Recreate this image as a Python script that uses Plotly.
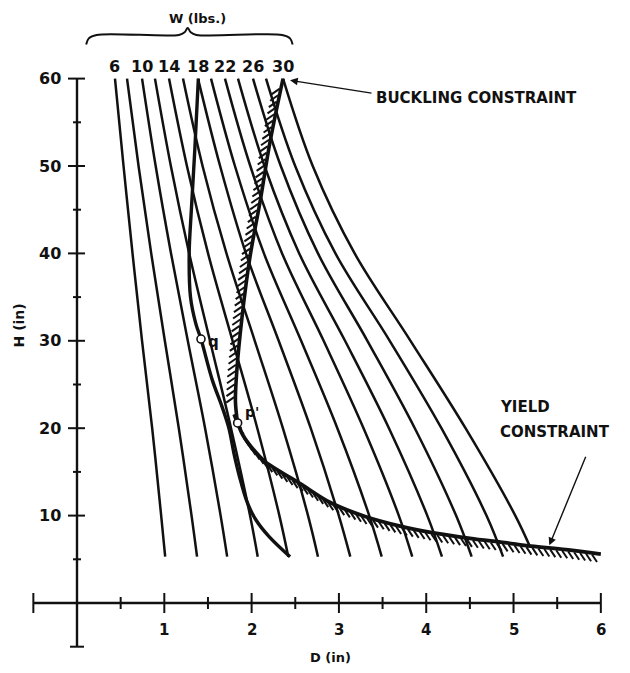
import numpy as np
import plotly.graph_objects as go

# ---- data -------------------------------------------------------------
# constant-weight contours W (lbs): D (in) read at the heights in h_levels
w_values = [6, 8, 10, 12, 14, 16, 18, 20, 22, 24, 26, 28, 30]
w_labelled = [6, 10, 14, 18, 22, 26, 30]
h_levels = [60, 50, 40, 30, 20, 10]
w_end_h = [5.3, 5.3, 5.3, 5.3, 5.3, 5.3, 5.3, 5.3, 5.3, 5.3, 5.3, 5.3, 6.4]
w_curve_d = [
    [0.435, 0.533, 0.636, 0.745, 0.861, 0.964, 1.01],
    [0.573, 0.705, 0.850, 1.006, 1.166, 1.312, 1.375],
    [0.745, 0.901, 1.077, 1.269, 1.467, 1.645, 1.72],
    [0.893, 1.075, 1.285, 1.523, 1.764, 1.982, 2.07],
    [1.054, 1.259, 1.501, 1.782, 2.065, 2.318, 2.42],
    [1.214, 1.438, 1.712, 2.036, 2.358, 2.646, 2.76],
    [1.386, 1.639, 1.935, 2.310, 2.677, 2.999, 3.13],
    [1.535, 1.809, 2.141, 2.567, 2.982, 3.347, 3.49],
    [1.695, 1.985, 2.349, 2.825, 3.282, 3.686, 3.84],
    [1.844, 2.148, 2.545, 3.070, 3.573, 4.012, 4.18],
    [2.016, 2.334, 2.760, 3.326, 3.869, 4.342, 4.52],
    [2.165, 2.499, 2.960, 3.582, 4.174, 4.690, 4.88],
    [2.360, 2.700, 3.180, 3.820, 4.450, 5.020, 5.19],
]

# buckling constraint
buck_d = [2.36, 2.21, 2.10, 1.98, 1.89, 1.83, 1.815, 1.84]
buck_h = [60.0, 52.7, 46.1, 39.5, 32.7, 26.5, 23.0, 20.6]

# yield constraint
yield_d = [1.80, 1.84, 1.90, 2.00, 2.15, 2.35, 2.55, 2.90, 3.30, 3.70, 4.10, 4.50, 4.90, 5.20, 5.60, 6.00]
yield_h = [21.6, 20.6, 19.2, 17.8, 16.2, 14.9, 13.7, 11.5, 9.9, 8.8, 8.0, 7.4, 6.9, 6.5, 6.1, 5.6]

# third limiting curve through q
limit_d = [1.39, 1.35, 1.31, 1.285, 1.30, 1.36, 1.42, 1.55, 1.66, 1.74, 1.80, 1.86, 1.95, 2.05, 2.20, 2.44]
limit_h = [60.0, 52.0, 45.0, 40.0, 35.0, 32.0, 30.2, 25.5, 22.5, 20.0, 17.0, 14.5, 11.5, 9.5, 7.6, 5.3]

# marked designs
pt_names = ["q", "p'"]
pt_d = [1.42, 1.84]
pt_h = [30.2, 20.6]

x_tick_labels = [1, 2, 3, 4, 5, 6]
y_tick_labels = [10, 20, 30, 40, 50, 60]

# ---- geometry ------------------------------------------------------------
W_PX, H_PX = 630, 673
X_RANGE = [-0.882, 6.334]
Y_RANGE = [-8.009, 68.993]
SX = W_PX / (X_RANGE[1] - X_RANGE[0])   # px per inch of D
SY = H_PX / (Y_RANGE[1] - Y_RANGE[0])   # px per inch of H

FONT = "DejaVu Sans"
INK = "#111111"

fig = go.Figure()


def add_line(xs, ys, width, shape="spline"):
    fig.add_trace(go.Scatter(x=xs, y=ys, mode="lines",
                             line=dict(color=INK, width=width, shape=shape),
                             hoverinfo="skip"))


def hatch(d, h, stroke_px, offset_px, step_px, start=0.0, stop=1.0):
    """Short strokes along a curve, given in pixel units."""
    px = np.asarray(d, float) * SX
    py = -np.asarray(h, float) * SY
    seg = np.hypot(np.diff(px), np.diff(py))
    cum = np.concatenate([[0], np.cumsum(seg)])
    total = cum[-1]
    xs, ys = [], []
    for s in np.arange(start * total, stop * total, step_px):
        x = np.interp(s, cum, px)
        y = np.interp(s, cum, py)
        x0, y0 = x + offset_px[0], y + offset_px[1]
        x1, y1 = x0 + stroke_px[0], y0 + stroke_px[1]
        xs += [x0 / SX, x1 / SX, None]
        ys += [-y0 / SY, -y1 / SY, None]
    add_line(xs, ys, 2.0, shape="linear")


# weight contours
for wd, he in zip(w_curve_d, w_end_h):
    add_line(wd, h_levels + [he], 2.5)

# constraints
add_line(buck_d, buck_h, 3.6)
hatch(buck_d, buck_h, (-8, 5.5), (-1.5, 0), 6.5, 0.03, 0.93)
add_line(yield_d, yield_h, 3.8)
hatch(yield_d, yield_h, (5, 7.5), (0, 1.5), 6.0, 0.0, 0.99)
add_line(limit_d, limit_h, 3.4)

# axes
add_line([-0.5, 6.0], [0, 0], 2.4, shape="linear")
add_line([0, 0], [-5, 60], 2.4, shape="linear")
tx, ty = [], []
for k in range(-1, 13):
    d = k * 0.5
    if d == 0:
        continue
    half = 10 if (k % 2 == 0 or k == -1) else 6
    tx += [d, d, None]
    ty += [-half / SY, half / SY, None]
for k in range(-1, 13):
    hv = k * 5
    if hv == 0:
        continue
    if k == -1:
        a, b = 7, 7
    elif k % 2 == 0:
        a, b = 9, 8
    else:
        a, b = 4, 4
    tx += [-a / SX, b / SX, None]
    ty += [hv, hv, None]
add_line(tx, ty, 2.0, shape="linear")

# marked points
fig.add_trace(go.Scatter(x=pt_d, y=pt_h, mode="markers",
                         marker=dict(size=8, color="white", line=dict(color=INK, width=1.6)),
                         hoverinfo="skip"))

ann = []


def text(x, y, s, size=15, **kw):
    d = dict(x=x, y=y, xref="x", yref="y", text=s, showarrow=False,
             font=dict(family=FONT, size=size, color=INK))
    d.update(kw)
    ann.append(d)


for v in x_tick_labels:
    text(v, -3.1, f"<b>{v}</b>", size=15)
for v in y_tick_labels:
    text(-0.16, v, f"<b>{v}</b>", size=16, xanchor="right")
for w, wd in zip(w_values, w_curve_d):
    if w in w_labelled:
        text(wd[0], 61.4, f"<b>{w}</b>", size=16)

text(2.9, -6.2, "<b>D (in)</b>", size=13)
text(-0.66, 31.8, "<b>H (in)</b>", size=14, textangle=-90)
text(1.38, 66.9, "<b>W (lbs.)</b>", size=13)

text(pt_d[0] + 0.14, pt_h[0] - 0.3, "<b>q</b>", size=15)
text(pt_d[1] + 0.17, pt_h[1] + 1.2, "<b>p'</b>", size=14)

text(3.40, 57.8, "<b>BUCKLING CONSTRAINT</b>", size=15, xanchor="left")
text(4.82, 22.4, "<b>YIELD</b>", size=15, xanchor="left")
text(4.82, 19.6, "<b>CONSTRAINT</b>", size=15, xanchor="left")

# arrows
ann.append(dict(x=buck_d[0] + 0.08, y=59.8, xref="x", yref="y", ax=83, ay=13,
                showarrow=True, arrowhead=2, arrowsize=1.1, arrowwidth=1.4, arrowcolor=INK, text=""))
ann.append(dict(x=5.41, y=6.6, xref="x", yref="y", ax=37, ay=-90,
                showarrow=True, arrowhead=2, arrowsize=1.1, arrowwidth=1.4, arrowcolor=INK, text=""))

# brace spanning the labelled contours
bl = w_curve_d[0][0] - 0.33
br = w_curve_d[-1][0] + 0.11
bm = 0.5 * (bl + br) - 0.02
brace_d = [bl, bl + 0.03, bl + 0.12, bm - 0.1, bm - 0.035, bm, bm + 0.035, bm + 0.1, br - 0.12, br - 0.03, br]
brace_h = [63.9, 64.6, 65.0, 65.0, 65.3, 65.8, 65.3, 65.0, 65.0, 64.6, 63.9]
add_line(brace_d, brace_h, 2.0)

fig.update_layout(
    width=W_PX, height=H_PX,
    margin=dict(l=0, r=0, t=0, b=0),
    paper_bgcolor="white", plot_bgcolor="white",
    showlegend=False,
    xaxis=dict(range=X_RANGE, visible=False, fixedrange=True),
    yaxis=dict(range=Y_RANGE, visible=False, fixedrange=True),
    annotations=ann,
)

fig.write_html("out.html")
